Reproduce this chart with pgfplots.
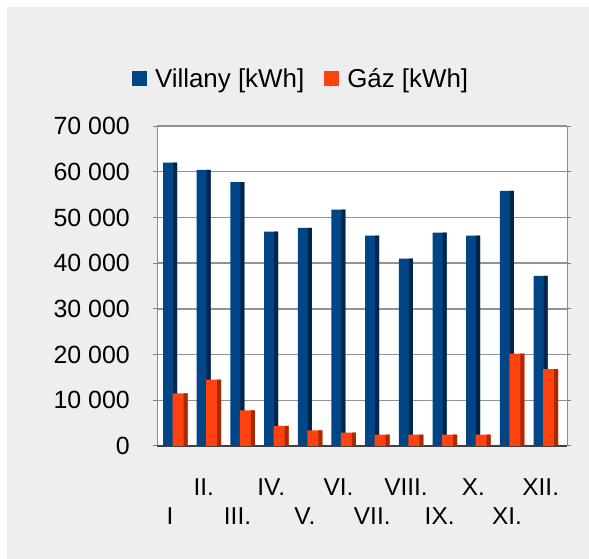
\documentclass[border=0pt]{standalone}
\usepackage{fontspec}
\setmainfont{Liberation Sans}
\usepackage{pgfplots}
\pgfplotsset{compat=1.18}
\definecolor{vill}{HTML}{004586}
\definecolor{villdark}{HTML}{00264D}
\definecolor{gaz}{HTML}{FF420E}
\definecolor{gazdark}{HTML}{A82A00}
\definecolor{bg}{HTML}{EEEEEE}
\pgfplotstableread{
x villany gaz
0  62000 11500
1  60400 14500
2  57700  7800
3  46900  4400
4  47700  3400
5  51700  2900
6  46000  2500
7  41000  2500
8  46700  2500
9  46000  2500
10 55800 20200
11 37200 16800
}\datatable
\begin{document}
\begin{tikzpicture}
\useasboundingbox (0,0) rectangle (589bp,559bp);
\fill[white] (0,0) rectangle (589bp,559bp);
\fill[bg] (7bp,0) rectangle (589bp,552bp);
\begin{axis}[
  at={(157bp,113bp)}, anchor=south west,
  scale only axis, width=410bp, height=320bp,
  xmin=-0.55, xmax=11.62, ymin=0, ymax=70000,
  axis background/.style={fill=white},
  axis line style={draw=gray!90, line width=1bp},
  scaled y ticks=false,
  ytick={0,10000,20000,30000,40000,50000,60000,70000},
  yticklabels={0,10 000,20 000,30 000,40 000,50 000,60 000,70 000},
  yticklabel style={anchor=east, inner sep=0pt, xshift=-23bp, font=\fontsize{25}{30}\selectfont},
  xtick={-0.16,0.84,1.84,2.84,3.84,4.84,5.84,6.84,7.84,8.84,9.84,10.84},
  xticklabels={{\strut\\ \strut I},{\strut II.},{\strut\\ \strut III.},{\strut IV.},{\strut\\ \strut V.},{\strut VI.},{\strut\\ \strut VII.},{\strut VIII.},{\strut\\ \strut IX.},{\strut X.},{\strut\\ \strut XI.},{\strut XII.}},
  xticklabel style={align=center, anchor=north, inner sep=0pt, yshift=-25bp, font=\fontsize{24.5}{29}\selectfont},
  xtick style={draw=none},
  tick align=outside, major tick length=4bp,
  ytick style={draw=gray, line width=1bp},
  ymajorgrids, grid style={gray!85, line width=1.5bp},
  extra y ticks={0}, extra y tick labels={},
  extra y tick style={grid style={black!75, line width=2bp}},
  legend columns=2,
  legend style={draw=none, fill=none, at={(0.349,1.147)}, anchor=center,
    font=\fontsize{26}{30}\selectfont,
    nodes={inner xsep=0pt},
    /tikz/every odd column/.append style={column sep=8bp},
    /tikz/every even column/.append style={column sep=20bp}},
]
\addplot[ybar, bar width=14bp, bar shift=-5.5bp, draw=none, fill=vill,
  legend image code/.code={\fill[vill] (0bp,-7.5bp) rectangle (15bp,7.5bp);}]
  table[x=x, y=villany] {\datatable};
\addlegendentry{Villany [kWh]}
\addplot[ybar, bar width=4bp, bar shift=-0.5bp, draw=none, fill=villdark, forget plot]
  table[x=x, y=villany] {\datatable};
\addplot[ybar, bar width=15bp, bar shift=4.5bp, draw=none, fill=gaz,
  legend image code/.code={\fill[gaz] (0bp,-7.5bp) rectangle (15bp,7.5bp);}]
  table[x=x, y=gaz] {\datatable};
\addlegendentry{Gáz [kWh]}
\addplot[ybar, bar width=4bp, bar shift=10bp, draw=none, fill=gazdark, forget plot]
  table[x=x, y=gaz] {\datatable};
\end{axis}
\end{tikzpicture}
\end{document}
